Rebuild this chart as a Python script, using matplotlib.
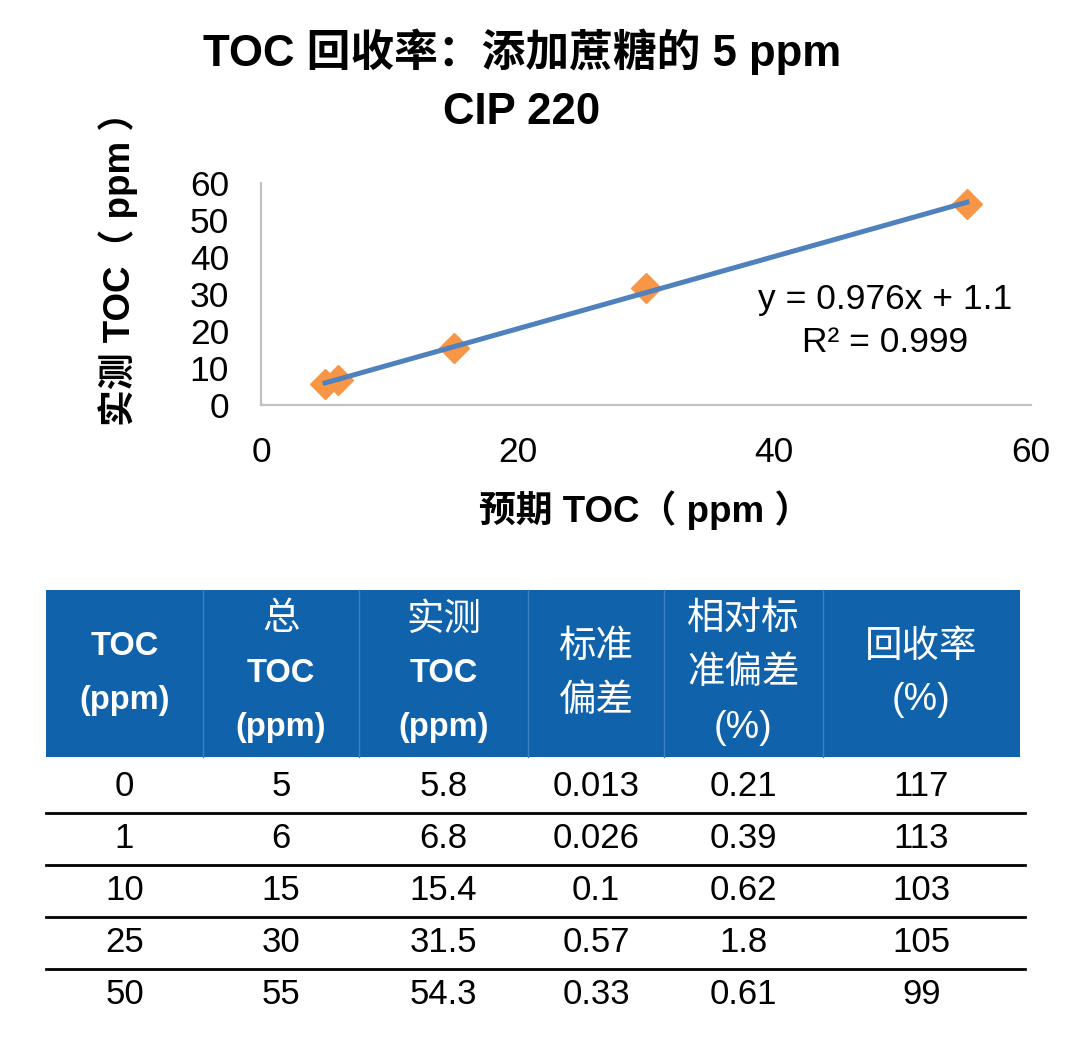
#!/usr/bin/env python3
import numpy as np
import matplotlib
matplotlib.use("Agg")
import matplotlib.pyplot as plt
from matplotlib.patches import Rectangle

plt.rcParams["font.family"] = ["Liberation Sans", "Noto Sans CJK SC"]

# ============================================================
# Data
# ============================================================
expected_toc = [5, 6, 15, 30, 55]
measured_toc = [5.8, 6.8, 15.4, 31.5, 54.3]
eq_text = "y = 0.976x + 1.1"
r2_text = "R² = 0.999"

added_toc = ["0", "1", "10", "25", "50"]
total_toc = ["5", "6", "15", "30", "55"]
meas_col = ["5.8", "6.8", "15.4", "31.5", "54.3"]
std_dev = ["0.013", "0.026", "0.1", "0.57", "0.33"]
rsd = ["0.21", "0.39", "0.62", "1.8", "0.61"]
recovery = ["117", "113", "103", "105", "99"]

# header lines per column: (text, is_latin_bold)
headers = [
    [("TOC", True), ("(ppm)", True)],
    [("总", False), ("TOC", True), ("(ppm)", True)],
    [("实测", False), ("TOC", True), ("(ppm)", True)],
    [("标准", False), ("偏差", False)],
    [("相对标", False), ("准偏差", False), ("(%)", False)],
    [("回收率", False), ("(%)", False)],
]

W, H = 1080, 1056
fig = plt.figure(figsize=(W / 100, H / 100), dpi=100)

# ============================================================
# Scatter + trendline
# ============================================================
ax = fig.add_axes([261 / W, 1 - 405 / H, 770 / W, 222 / H])
slope, intercept = np.polyfit(expected_toc, measured_toc, 1)
xs = np.array([min(expected_toc), max(expected_toc)])
ax.plot(expected_toc, measured_toc, linestyle="none", marker="D", ms=15,
        color="#F79646", zorder=2)
ax.plot(xs, slope * xs + intercept, color="#4F81BD", lw=3.6, zorder=3)

ax.set_xlim(0, 60)
ax.set_ylim(0, 60)
ax.set_xticks([0, 20, 40, 60])
ax.set_yticks([0, 10, 20, 30, 40, 50, 60])
ax.tick_params(length=0, labelsize=25.5, colors="black")
ax.tick_params(axis="x", pad=22)
ax.tick_params(axis="y", pad=23)
for s in ["top", "right"]:
    ax.spines[s].set_visible(False)
for s in ["left", "bottom"]:
    ax.spines[s].set_color("#C0C0C0")
    ax.spines[s].set_linewidth(1.6)
ax.set_facecolor("none")

# ============================================================
# Canvas for titles and the table (pixel coords, y down)
# ============================================================
cv = fig.add_axes([0, 0, 1, 1], zorder=-1)
cv.set_xlim(0, W)
cv.set_ylim(H, 0)
cv.axis("off")

cv.text(885, 300, eq_text, fontsize=25.5, ha="center", va="center")
cv.text(885, 343, r2_text, fontsize=25.5, ha="center", va="center")

cv.text(522, 52, "TOC 回收率：添加蔗糖的 5 ppm", fontsize=31.5, fontweight="bold",
        ha="center", va="center")
cv.text(522, 113, "CIP 220", fontsize=31.5, fontweight="bold", ha="center", va="center")
cv.text(118, 260, "实测 TOC（ ppm ）", fontsize=26.5, fontweight="bold", rotation=90,
        ha="center", va="center")
cv.text(645, 510, "预期 TOC（ ppm ）", fontsize=26.5, fontweight="bold",
        ha="center", va="center")

# table
col_edges = [46, 203, 359, 528, 664, 823, 1020]
col_centers = [(a + b) / 2 for a, b in zip(col_edges[:-1], col_edges[1:])]
head_top, head_bot = 590, 757
cv.add_patch(Rectangle((col_edges[0], head_top), col_edges[-1] - col_edges[0],
                       head_bot - head_top, facecolor="#1063AB", edgecolor="none"))
for xe in col_edges[1:-1]:
    cv.plot([xe, xe], [head_top, head_bot], color="#3B7FBE", lw=1)

line_gap = 54
for cx, lines in zip(col_centers, headers):
    n = len(lines)
    y0 = (head_top + head_bot) / 2 - (n - 1) * line_gap / 2
    for i, (txt, latin) in enumerate(lines):
        cv.text(cx, y0 + i * line_gap, txt, color="white",
                fontsize=23.5 if latin else 27,
                fontweight="bold" if latin else "normal",
                ha="center", va="center")

columns = [added_toc, total_toc, meas_col, std_dev, rsd, recovery]
row_h = 52
first_row = 787
n_rows = len(added_toc)
for r in range(n_rows):
    yc = first_row + r * row_h
    for cx, col in zip(col_centers, columns):
        cv.text(cx, yc, col[r], fontsize=25, ha="center", va="center")
    if r < n_rows - 1:
        cv.plot([46, 1025], [yc + row_h / 2, yc + row_h / 2], color="black", lw=2)

fig.savefig("out.png", dpi=100)
